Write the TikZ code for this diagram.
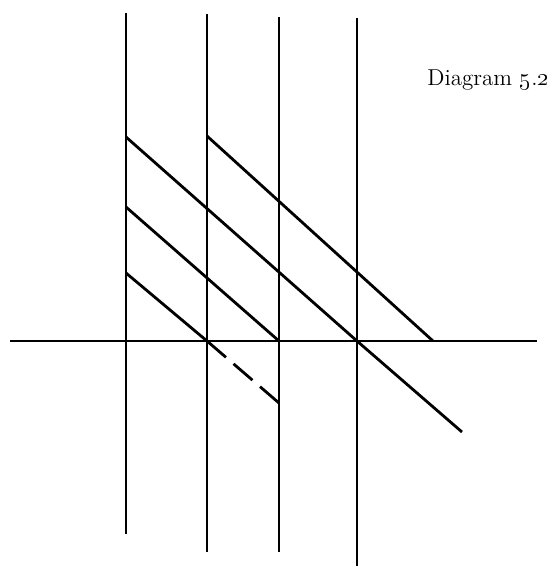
\documentclass[tikz,border=0pt]{standalone}
\begin{document}
\begin{tikzpicture}[x=0.5pt, y=-0.5pt,
  rule/.style={line width=1.4pt},
  ruledash/.style={rule, dash pattern=on 12.5pt off 5pt},
  caption/.style={font=\fontsize{11.5}{14}\selectfont, anchor=base west, inner sep=0pt}
]
  \useasboundingbox (0,0) rectangle (551,569);

  % Senkrechte Linien
  \coordinate (v0t) at (126, 13);  \coordinate (v0b) at (126, 534);
  \coordinate (v1t) at (207, 14);  \coordinate (v1b) at (207, 552);
  \coordinate (v2t) at (279, 17);  \coordinate (v2b) at (279, 552);
  \coordinate (v3t) at (357, 18);  \coordinate (v3b) at (357, 566);

  % Waagerechte Linie
  \coordinate (hl) at (10, 341);
  \coordinate (hr) at (537, 341);

  % Gitterpunkte
  \coordinate (p03) at (126, 137);
  \coordinate (p02) at (126, 207);
  \coordinate (p01) at (126, 273);
  \coordinate (p13) at (207, 136);
  \coordinate (p10) at (207, 341);
  \coordinate (p20) at (279, 341);
  \coordinate (p30) at (357, 341);
  \coordinate (p40) at (433, 341);
  \coordinate (pd)  at (279, 403);
  \coordinate (pe)  at (462, 432);

  \draw[rule] (v0t) -- (v0b);
  \draw[rule] (v1t) -- (v1b);
  \draw[rule] (v2t) -- (v2b);
  \draw[rule] (v3t) -- (v3b);
  \draw[rule] (hl) -- (hr);

  % Schraege Linien
  \draw[rule] (p03) -- (p30) -- (pe);
  \draw[rule] (p13) -- (p40);
  \draw[rule] (p02) -- (p20);
  \draw[rule] (p01) -- (p10);
  \draw[ruledash] (p10) -- (pd);

  % Beschriftung
  \node[caption] (title) at (427, 85) {Diagram \oldstylenums{5}.\oldstylenums{2}};
\end{tikzpicture}
\end{document}
